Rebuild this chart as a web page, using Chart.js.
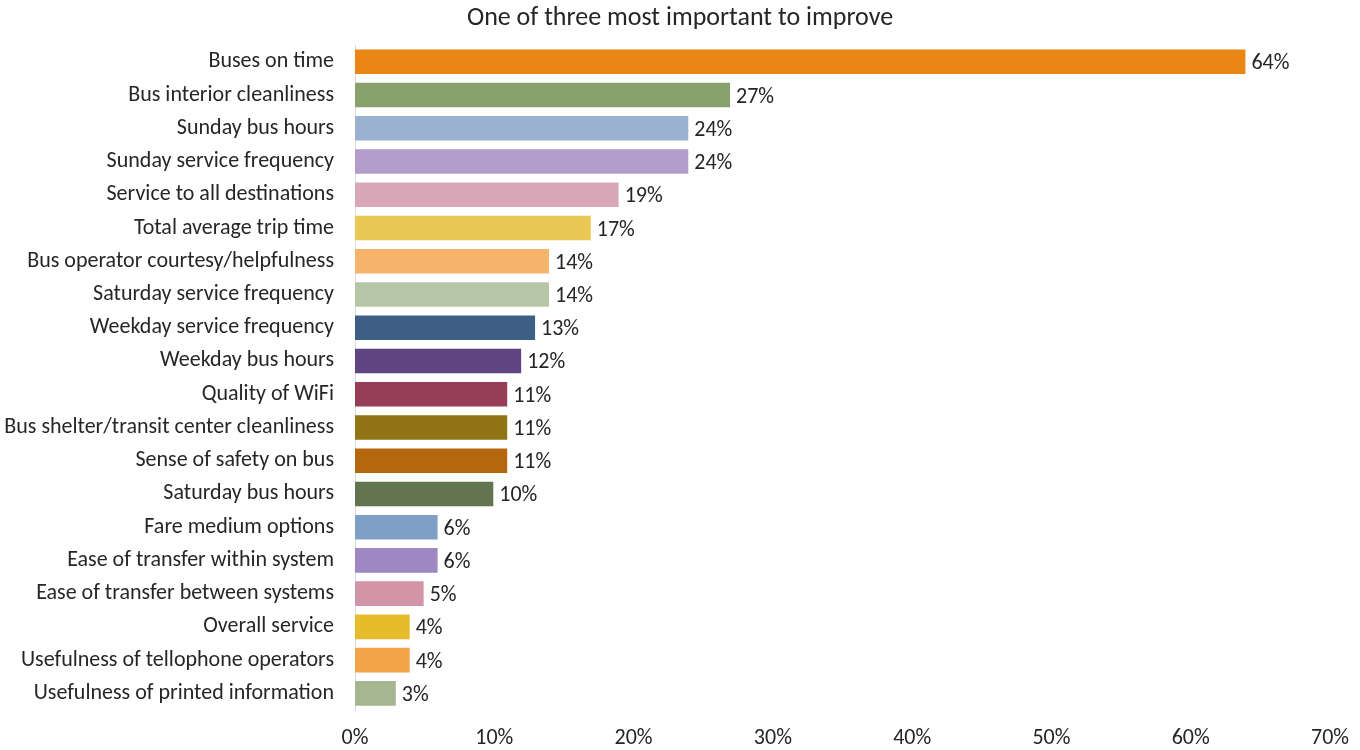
<!DOCTYPE html>
<html>
<head>
<meta charset="utf-8">
<script src="https://cdn.jsdelivr.net/npm/chart.js@4/dist/chart.umd.min.js"></script>
<style>
  body { margin: 0; background: #fff; }
  #wrap { width: 1360px; height: 750px; }
</style>
</head>
<body>
<div id="wrap"><canvas id="improveChart"></canvas></div>
<script>
const categories = [
    'Buses on time',
    'Bus interior cleanliness',
    'Sunday bus hours',
    'Sunday service frequency',
    'Service to all destinations',
    'Total average trip time',
    'Bus operator courtesy/helpfulness',
    'Saturday service frequency',
    'Weekday service frequency',
    'Weekday bus hours',
    'Quality of WiFi',
    'Bus shelter/transit center cleanliness',
    'Sense of safety on bus',
    'Saturday bus hours',
    'Fare medium options',
    'Ease of transfer within system',
    'Ease of transfer between systems',
    'Overall service',
    'Usefulness of tellophone operators',
    'Usefulness of printed information'
];
const percentages = [64, 27, 24, 24, 19, 17, 14, 14, 13, 12, 11, 11, 11, 10, 6, 6, 5, 4, 4, 3];
const barColors = [
    '#EA8613', '#87A06C', '#9AB1D0', '#B19CCB', '#D9A8B8',
    '#EBC856', '#F5B36B', '#B8C6A8', '#3E5F85', '#5E4581',
    '#963E58', '#917515', '#B4670F', '#627450', '#7F9FC6',
    '#9E87C3', '#D295A8', '#E6BC2A', '#F4A446', '#A6B690'
];
const xTicks = [0, 10, 20, 30, 40, 50, 60, 70];

const FONT = 'Carlito, Lato, sans-serif';
const TEXT = '#262626';

// value labels at the end of every bar
const barValueLabels = {
    id: 'barValueLabels',
    afterDatasetsDraw(chart) {
        const ctx = chart.ctx;
        const meta = chart.getDatasetMeta(0);
        ctx.save();
        ctx.font = '22px ' + FONT;
        ctx.fillStyle = TEXT;
        ctx.textAlign = 'left';
        ctx.textBaseline = 'middle';
        meta.data.forEach((bar, i) => {
            ctx.fillText(percentages[i] + '%', bar.x + 5, bar.y + 2);
        });
        ctx.restore();
    }
};

const ctx = document.getElementById('improveChart').getContext('2d');
const improveChart = new Chart(ctx, {
    type: 'bar',
    data: {
        labels: categories,
        datasets: [{
            data: percentages,
            backgroundColor: barColors,
            borderColor: 'rgba(255,255,255,0.35)',
            borderWidth: 1,
            barPercentage: 0.8,
            categoryPercentage: 1
        }]
    },
    options: {
        indexAxis: 'y',
        responsive: true,
        maintainAspectRatio: false,
        animation: false,
        layout: { padding: 0 },
        plugins: {
            legend: { display: false },
            tooltip: { enabled: false },
            title: {
                display: true,
                text: 'One of three most important to improve',
                color: TEXT,
                font: { family: FONT, size: 26, weight: 'normal' },
                padding: { top: 3, bottom: 11 }
            }
        },
        scales: {
            x: {
                min: 0,
                max: 70,
                afterFit: s => { s.height = 40; s.paddingRight = 30; },
                afterBuildTicks: s => { s.ticks = xTicks.map(v => ({ value: v })); },
                grid: { display: false, drawTicks: false },
                border: { display: false },
                ticks: {
                    padding: 15,
                    color: TEXT,
                    font: { family: FONT, size: 22 },
                    callback: v => v + '%'
                }
            },
            y: {
                afterFit: s => { s.width = 355; },
                grid: { display: false, drawTicks: false },
                border: { display: true, color: '#D9D9D9', width: 1 },
                ticks: {
                    padding: 21,
                    color: TEXT,
                    font: { family: FONT, size: 22 }
                }
            }
        }
    },
    plugins: [barValueLabels]
});
</script>
</body>
</html>
